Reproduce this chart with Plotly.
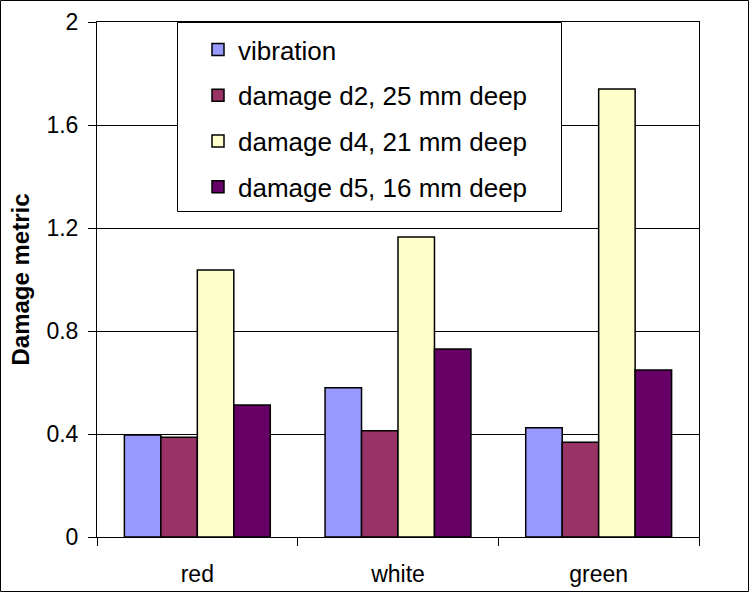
import plotly.graph_objects as go

categories = ["red", "white", "green"]
series_names = ["vibration", "damage d2, 25 mm deep", "damage d4, 21 mm deep", "damage d5, 16 mm deep"]
vibration = [0.396, 0.58, 0.424]
d2 = [0.387, 0.413, 0.368]
d4 = [1.037, 1.165, 1.74]
d5 = [0.513, 0.73, 0.649]
colors = ["#9999FF", "#993366", "#FFFFCC", "#660066"]
y_ticks = [0, 0.4, 0.8, 1.2, 1.6, 2]

W, H = 749, 592
L, R, T, B = 97, 699, 22, 537

def px_x(p):
    return (p - L) / (R - L)

def px_y(p):
    return (B - p) / (B - T)

fig = go.Figure()
for i, (name, vals) in enumerate(zip(series_names, [vibration, d2, d4, d5])):
    fig.add_trace(go.Bar(
        x=categories, y=vals, name=name,
        marker=dict(color=colors[i], line=dict(color="black", width=1.5)),
        legendgroup=str(i),
    ))

FONT = "Liberation Sans, Arial, sans-serif"
fig.update_layout(
    width=W, height=H,
    margin=dict(l=L, r=W - R, t=T, b=H - B),
    paper_bgcolor="white", plot_bgcolor="white",
    font=dict(family=FONT, color="black"),
    barmode="group", bargap=0.273, bargroupgap=0,
    showlegend=True,
    legend=dict(
        x=px_x(198), y=px_y(26), xanchor="left", yanchor="top",
        bgcolor="rgba(0,0,0,0)", borderwidth=0,
        font=dict(size=26, family=FONT, color="black"),
        tracegroupgap=9, traceorder="grouped",
    ),
    xaxis=dict(
        type="category", showline=True, linecolor="black", linewidth=1, mirror=True,
        ticks="outside", ticklen=8, tickcolor="black", tickson="boundaries",
        ticklabelstandoff=16, automargin=False,
        tickfont=dict(size=23, family=FONT, color="black"), showgrid=False,
    ),
    yaxis=dict(
        range=[0, 2], tickvals=y_ticks, ticktext=[f"{v:g}" for v in y_ticks],
        showline=True, linecolor="black", linewidth=1, mirror=True,
        ticks="outside", ticklen=8, tickcolor="black", ticklabelstandoff=5,
        showgrid=True, gridcolor="black", gridwidth=1, zeroline=False, automargin=False,
        tickfont=dict(size=23, family=FONT, color="black"),
        title=dict(text="<b>Damage metric</b>", font=dict(size=24, family=FONT, color="black"), standoff=10),
    ),
    shapes=[
        dict(type="rect", xref="paper", yref="paper",
             x0=px_x(177.5), x1=px_x(561.5), y0=px_y(211.5), y1=px_y(22.5),
             line=dict(color="black", width=1), fillcolor="white", layer="above"),
        dict(type="rect", xref="paper", yref="paper",
             x0=px_x(0.5), x1=px_x(748.5), y0=px_y(591.5), y1=px_y(0.5),
             line=dict(color="black", width=1), fillcolor="rgba(0,0,0,0)", layer="above"),
    ],
)

fig.write_html("out.html")
